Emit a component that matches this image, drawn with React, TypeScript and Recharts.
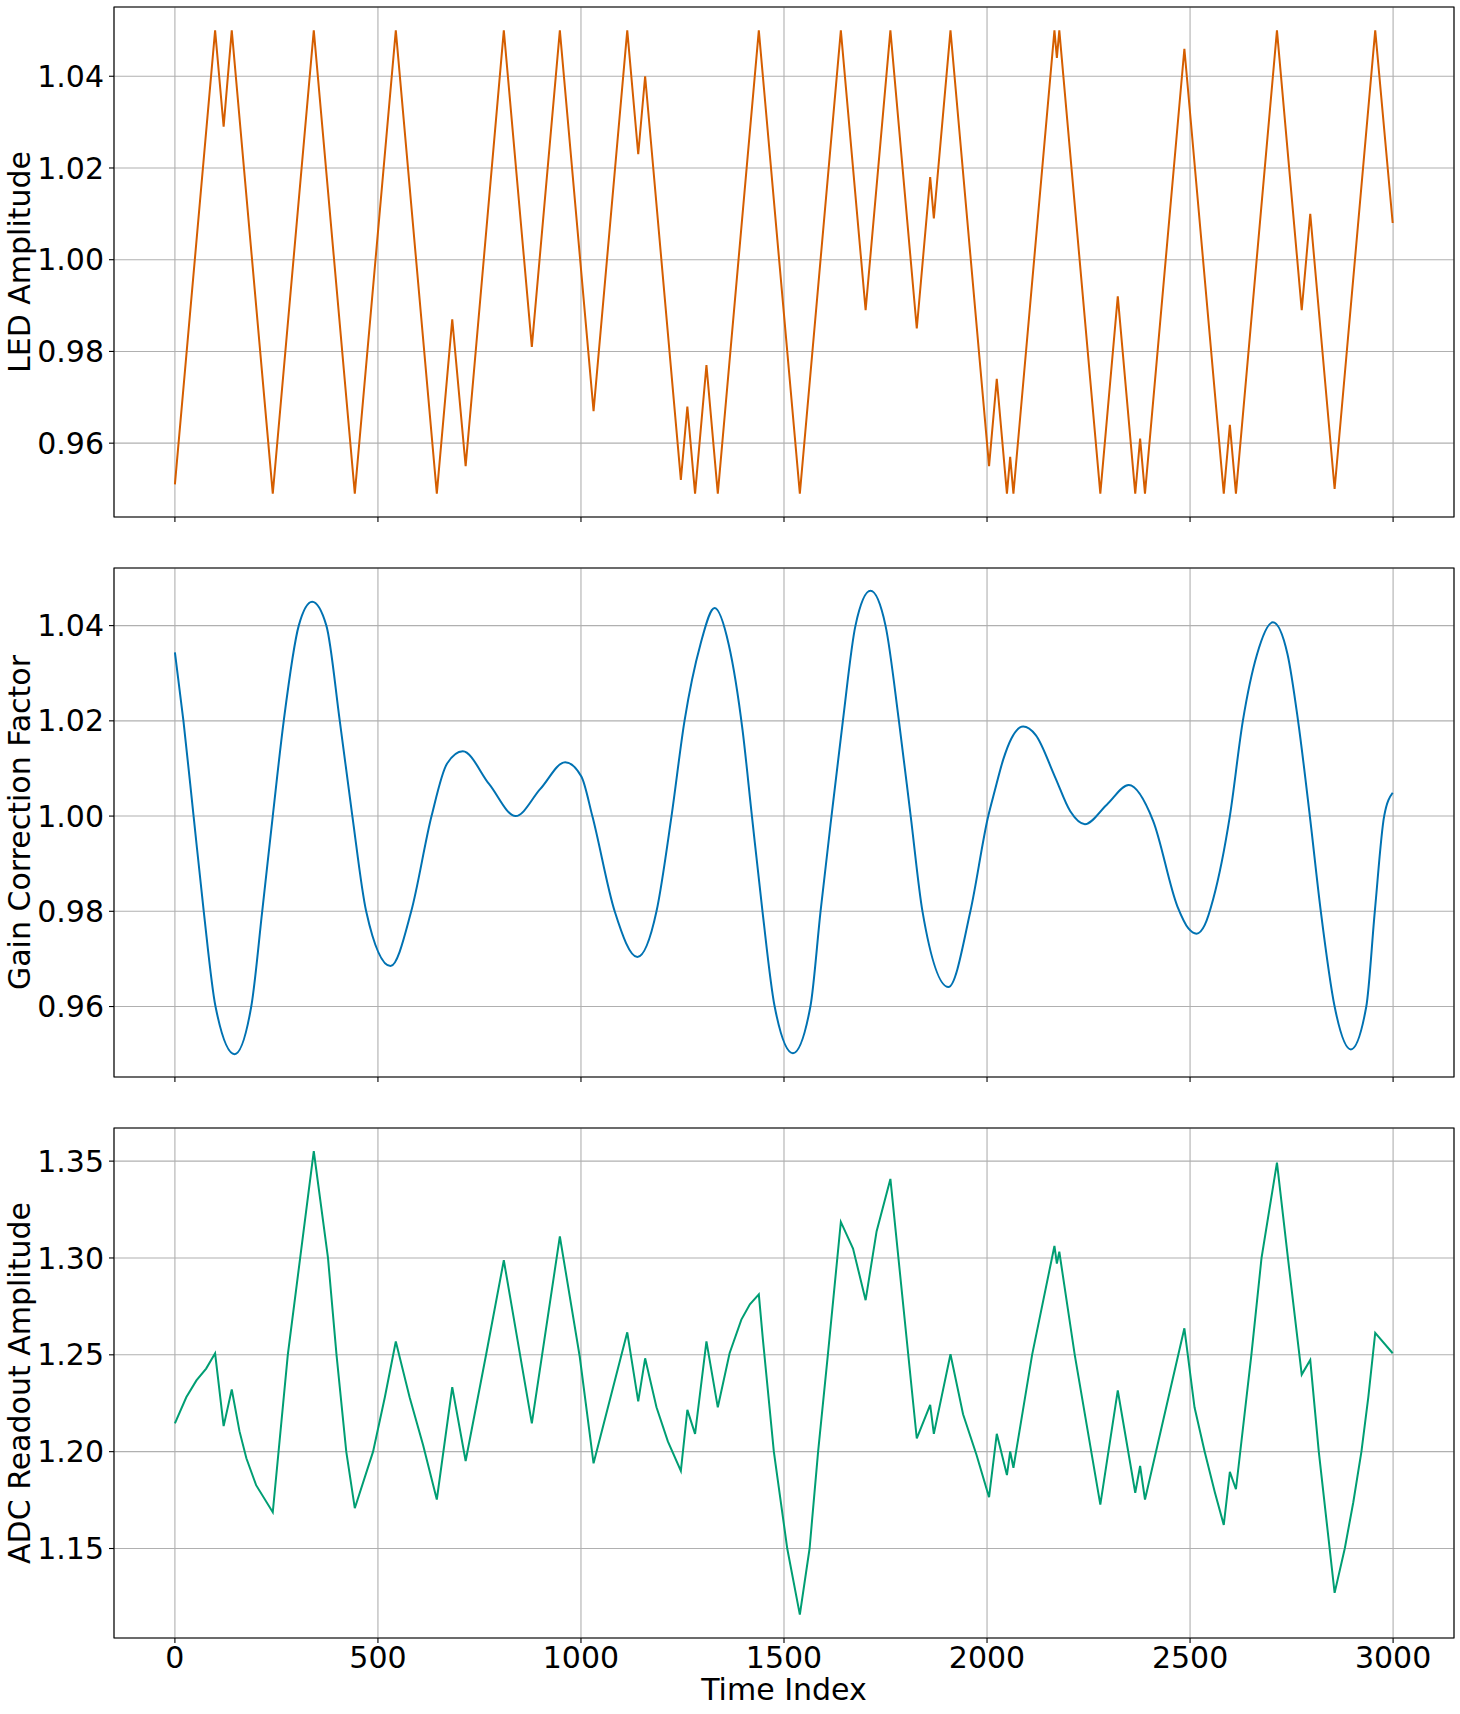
import { LineChart, Line, XAxis, YAxis, CartesianGrid, ReferenceArea } from "recharts";

const FONT = "DejaVu Sans, Verdana, sans-serif";

const timeTicks = [0, 500, 1000, 1500, 2000, 2500, 3000];
const ledTicks = [0.96, 0.98, 1.0, 1.02, 1.04];
const gainTicks = [0.96, 0.98, 1.0, 1.02, 1.04];
const adcTicks = [1.15, 1.2, 1.25, 1.3, 1.35];

// LED amplitude: triangle wave vertices
const ledTime = [
  0, 99, 120, 140, 241, 342, 443, 544, 645, 683, 716, 810, 879, 948, 1031, 1114, 1141, 1158,
  1246, 1262, 1281, 1309, 1337, 1438, 1539, 1640, 1701, 1762, 1827, 1860, 1869, 1910, 2005,
  2024, 2049, 2057, 2065, 2166, 2172, 2178, 2279, 2322, 2365, 2377, 2389, 2486, 2583, 2598,
  2613, 2714, 2775, 2796, 2856, 2956, 2999,
];
const ledValue = [
  0.951, 1.05, 1.029, 1.05, 0.949, 1.05, 0.949, 1.05, 0.949, 0.987, 0.955, 1.05, 0.981, 1.05,
  0.967, 1.05, 1.023, 1.04, 0.952, 0.968, 0.949, 0.977, 0.949, 1.05, 0.949, 1.05, 0.989, 1.05,
  0.985, 1.018, 1.009, 1.05, 0.955, 0.974, 0.949, 0.957, 0.949, 1.05, 1.044, 1.05, 0.949, 0.992,
  0.949, 0.961, 0.949, 1.046, 0.949, 0.964, 0.949, 1.05, 0.989, 1.01, 0.95, 1.05, 1.008,
];

// Gain correction factor: smooth curve, read at extrema and grid crossings
const gainTime = [
  0, 21, 46, 71, 100, 147, 188, 215, 241, 268, 305, 338, 373, 406, 437, 471, 531, 582, 632, 670,
  709, 774, 839, 900, 961, 1001, 1028, 1083, 1139, 1186, 1223, 1255, 1294, 1329, 1364, 1398,
  1421, 1447, 1477, 1522, 1565, 1590, 1617, 1645, 1676, 1713, 1750, 1783, 1812, 1841, 1905,
  1959, 2003, 2019, 2040, 2060, 2089, 2120, 2167, 2205, 2241, 2295, 2349, 2409, 2469, 2496,
  2516, 2536, 2557, 2598, 2630, 2665, 2704, 2740, 2766, 2795, 2822, 2856, 2896, 2934, 2955,
  2978, 2999,
];
const gainValue = [
  1.0344, 1.02, 1.0, 0.98, 0.96, 0.95, 0.96, 0.98, 1.0, 1.02, 1.04, 1.045, 1.04, 1.02, 1.0, 0.98,
  0.9685, 0.98, 1.0, 1.011, 1.0136, 1.0067, 1.0, 1.0057, 1.0113, 1.0083, 1.0, 0.98, 0.9704, 0.98,
  1.0, 1.02, 1.036, 1.0437, 1.036, 1.018, 1.0, 0.98, 0.96, 0.9502, 0.96, 0.98, 1.0, 1.02, 1.04,
  1.0473, 1.04, 1.02, 1.0, 0.98, 0.9641, 0.98, 1.0, 1.0053, 1.0119, 1.0163, 1.0188, 1.017,
  1.0083, 1.001, 0.9983, 1.0024, 1.0065, 0.999, 0.981, 0.9764, 0.9753, 0.9771, 0.9826, 1.0, 1.02,
  1.034, 1.0407, 1.034, 1.02, 1.0, 0.98, 0.96, 0.951, 0.96, 0.98, 1.0, 1.0049,
];

// ADC readout amplitude
const adcTime = [
  0, 28, 53, 77, 99, 120, 140, 159, 176, 200, 241, 278, 342, 377, 398, 422, 443, 488, 517, 544,
  578, 611, 645, 683, 716, 767, 810, 879, 948, 997, 1031, 1114, 1141, 1158, 1186, 1214, 1246,
  1262, 1281, 1309, 1337, 1366, 1395, 1416, 1438, 1448, 1475, 1508, 1539, 1563, 1584, 1608,
  1640, 1670, 1701, 1728, 1762, 1827, 1860, 1869, 1910, 1941, 1974, 2005, 2024, 2049, 2057,
  2065, 2111, 2166, 2172, 2178, 2216, 2279, 2322, 2365, 2377, 2389, 2486, 2511, 2536, 2561,
  2583, 2598, 2613, 2651, 2676, 2714, 2741, 2775, 2796, 2817, 2856, 2881, 2902, 2922, 2939,
  2956, 2999,
];
const adcValue = [
  1.2146, 1.2281, 1.2368, 1.2429, 1.2508, 1.2132, 1.2321, 1.2106, 1.1966, 1.1827, 1.1687, 1.25,
  1.3551, 1.3, 1.25, 1.2, 1.1708, 1.2, 1.2281, 1.2569, 1.2281, 1.2036, 1.1753, 1.2333, 1.1952,
  1.2508, 1.2988, 1.2146, 1.3111, 1.249, 1.194, 1.2616, 1.226, 1.2482, 1.2229, 1.2053, 1.1901,
  1.2216, 1.2092, 1.2569, 1.2229, 1.2508, 1.2682, 1.2761, 1.2812, 1.258, 1.2, 1.15, 1.1159, 1.15,
  1.2, 1.25, 1.3186, 1.3049, 1.2782, 1.3137, 1.3408, 1.2068, 1.2242, 1.2092, 1.2503, 1.2193,
  1.1984, 1.1765, 1.2092, 1.1879, 1.2001, 1.1917, 1.25, 1.3062, 1.2971, 1.3032, 1.25, 1.1727,
  1.2316, 1.1788, 1.1926, 1.1753, 1.2637, 1.2229, 1.2, 1.1791, 1.1622, 1.1896, 1.1806, 1.25, 1.3,
  1.3492, 1.3, 1.2398, 1.2473, 1.2, 1.1271, 1.15, 1.1739, 1.2, 1.2281, 1.2613, 1.2508,
];

const X_DOMAIN: [number, number] = [-150, 3150];

const toRows = (t: number[], v: number[]) => t.map((x, i) => ({ t: x, v: v[i] }));

const textStyle = { fill: "#000", fontSize: 30, fontFamily: FONT };

// keeps tick marks + grid lines but draws no label
const noLabel = () => <g />;

const yTitle = (text: string) => (props: any) => {
  const vb = props.viewBox || { y: 0, height: 0 };
  const cy = vb.y + vb.height / 2;
  return (
    <text x={30} y={cy} transform={`rotate(-90 30 ${cy})`} textAnchor="middle" {...textStyle}>
      {text}
    </text>
  );
};

const xTitle = (text: string) => (props: any) => {
  const vb = props.viewBox || { x: 0, y: 0, width: 0, height: 0 };
  return (
    <text x={vb.x + vb.width / 2} y={vb.y + vb.height - 14} textAnchor="middle" {...textStyle}>
      {text}
    </text>
  );
};

interface PanelProps {
  rows: { t: number; v: number }[];
  color: string;
  curve: "linear" | "monotone";
  yDomain: [number, number];
  yTicks: number[];
  yLabel: string;
  top: number;
  height: number;
  marginTop: number;
  xAxisHeight: number;
  showTimeLabels?: boolean;
}

const Panel = ({
  rows, color, curve, yDomain, yTicks, yLabel, top, height, marginTop, xAxisHeight, showTimeLabels,
}: PanelProps) => (
  <div style={{ position: "absolute", left: 0, top, width: 1460, height }}>
    <LineChart width={1460} height={height} data={rows} margin={{ top: marginTop, right: 6, bottom: 0, left: 0 }}>
      <CartesianGrid stroke="#b0b0b0" strokeWidth={1.1} />
      <XAxis
        dataKey="t"
        type="number"
        domain={X_DOMAIN}
        ticks={timeTicks}
        interval={0}
        allowDataOverflow
        height={xAxisHeight}
        axisLine={false}
        tickLine={{ stroke: "#000", strokeWidth: 1.1 }}
        tickSize={5}
        tickMargin={4}
        tick={showTimeLabels ? textStyle : noLabel}
        label={showTimeLabels ? { content: xTitle("Time Index") } : undefined}
      />
      <YAxis
        type="number"
        domain={yDomain}
        ticks={yTicks}
        interval={0}
        allowDataOverflow
        width={114}
        axisLine={false}
        tickLine={{ stroke: "#000", strokeWidth: 1.1 }}
        tickSize={5}
        tickMargin={5}
        tick={textStyle}
        tickFormatter={(v: number) => v.toFixed(2)}
        label={{ content: yTitle(yLabel) }}
      />
      <Line
        type={curve}
        dataKey="v"
        stroke={color}
        strokeWidth={2}
        dot={false}
        activeDot={false}
        isAnimationActive={false}
      />
      <ReferenceArea
        x1={X_DOMAIN[0]}
        x2={X_DOMAIN[1]}
        y1={yDomain[0]}
        y2={yDomain[1]}
        fill="none"
        fillOpacity={0}
        stroke="#000"
        strokeWidth={1.1}
      />
    </LineChart>
  </div>
);

export default function App() {
  return (
    <div style={{ position: "absolute", left: 0, top: 0, width: 1460, height: 1714, background: "#fff" }}>
      <Panel
        rows={toRows(ledTime, ledValue)}
        color="#d55e00"
        curve="linear"
        yDomain={[0.9439, 1.0551]}
        yTicks={ledTicks}
        yLabel="LED Amplitude"
        top={0}
        height={537}
        marginTop={7}
        xAxisHeight={20}
      />
      <Panel
        rows={toRows(gainTime, gainValue)}
        color="#0072b2"
        curve="monotone"
        yDomain={[0.9452, 1.0521]}
        yTicks={gainTicks}
        yLabel="Gain Correction Factor"
        top={540}
        height={557}
        marginTop={28}
        xAxisHeight={20}
      />
      <Panel
        rows={toRows(adcTime, adcValue)}
        color="#009e73"
        curve="linear"
        yDomain={[1.1038, 1.3671]}
        yTicks={adcTicks}
        yLabel="ADC Readout Amplitude"
        top={1100}
        height={614}
        marginTop={28}
        xAxisHeight={76}
        showTimeLabels
      />
    </div>
  );
}
